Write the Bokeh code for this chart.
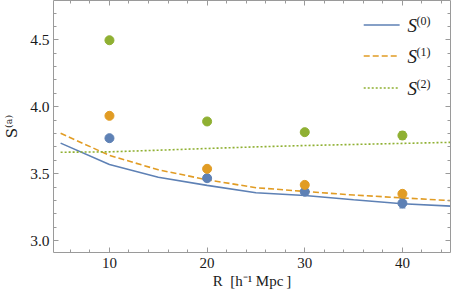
from bokeh.plotting import figure
from bokeh.models import (Range1d, LinearAxis, Label, Whisker, ColumnDataSource,
                          FixedTicker, PrintfTickFormatter, TeeHead)
from bokeh.embed import file_html
from bokeh.resources import INLINE

# ---- data ----
R_pts = [10, 20, 30, 40]
S0_pts = [3.765, 3.466, 3.365, 3.279]
S0_err = [0.008, 0.01, 0.02, 0.035]
S1_pts = [3.932, 3.536, 3.416, 3.349]
S1_err = [0.008, 0.01, 0.015, 0.02]
S2_pts = [4.497, 3.89, 3.81, 3.785]
S2_err = [0.008, 0.012, 0.018, 0.03]

R_line = [5, 10, 15, 20, 25, 30, 35, 40, 45, 50]
S0_line = [3.728, 3.568, 3.473, 3.412, 3.357, 3.337, 3.305, 3.275, 3.257, 3.24]
S1_line = [3.802, 3.636, 3.529, 3.454, 3.395, 3.367, 3.340, 3.319, 3.298, 3.28]
S2_line = [3.660, 3.663, 3.675, 3.688, 3.700, 3.710, 3.718, 3.726, 3.734, 3.741]

x_ticks = [10, 20, 30, 40]
y_ticks = [3.0, 3.5, 4.0, 4.5]
legend_labels = ["(0)", "(1)", "(2)"]
x_label = "R\u2002[h\u207b\u00b9 Mpc\u2009]"
y_label = "S\u207d\u1d43\u207e"

BLUE = "#5E81B5"
ORANGE = "#E19C24"
GREEN = "#8FB032"
FONT = "Liberation Serif"
AXC = "#9a9a9a"
TXT = "#1a1a1a"

# frame geometry in picture pixels
FL, FR, FT, FB = 52, 450, 0, 252
PXX = 9.79     # pixels per x unit
PXY = 133.8    # pixels per y unit
X0 = 4.27
X1 = X0 + (FR - FL) / PXX
Y1 = 4.794
Y0 = Y1 - (FB - FT) / PXY


def px2x(px):
    return X0 + (px - FL) / PXX


def px2y(py):
    return Y1 - (py - FT) / PXY


p = figure(width=452, height=294, x_range=Range1d(X0, X1), y_range=Range1d(Y0, Y1),
           output_backend="svg", toolbar_location=None,
           min_border_left=52, min_border_right=2, min_border_top=0, min_border_bottom=42)
p.outline_line_color = None
p.xgrid.visible = False
p.ygrid.visible = False
p.background_fill_color = "white"
p.border_fill_color = "white"

xt = FixedTicker(ticks=x_ticks, minor_ticks=[v for v in range(4, 47, 2)])
yt = FixedTicker(ticks=y_ticks, minor_ticks=[round(2.9 + 0.1 * i, 2) for i in range(20)])


def style(ax, labels=True):
    ax.axis_line_color = AXC
    ax.axis_line_width = 1
    ax.major_tick_line_color = AXC
    ax.minor_tick_line_color = AXC
    ax.major_tick_in = 5
    ax.major_tick_out = 0
    ax.minor_tick_in = 3
    ax.minor_tick_out = 0
    if labels:
        ax.major_label_text_font = FONT
        ax.major_label_text_font_size = "15.5px"
        ax.major_label_text_color = TXT
    else:
        ax.major_label_text_font_size = "0px"
        ax.major_label_standoff = 0
        ax.major_label_text_alpha = 0


p.xaxis.ticker = xt
p.yaxis.ticker = yt
p.xaxis.formatter = PrintfTickFormatter(format="%d")
p.yaxis.formatter = PrintfTickFormatter(format="%.1f")
style(p.xaxis[0])
style(p.yaxis[0])
p.xaxis.major_label_text_font_size = "15px"
p.xaxis.major_label_standoff = 5
p.yaxis.major_label_standoff = 4

p.xaxis.axis_label = x_label
p.xaxis.axis_label_text_font = FONT
p.xaxis.axis_label_text_font_style = "normal"
p.xaxis.axis_label_text_font_size = "15px"
p.xaxis.axis_label_text_color = TXT
p.xaxis.axis_label_standoff = 2

p.yaxis.axis_label = y_label
p.yaxis.axis_label_text_font = "DejaVu Serif"
p.yaxis.axis_label_text_font_style = "normal"
p.yaxis.axis_label_text_font_size = "15px"
p.yaxis.axis_label_text_color = TXT
p.yaxis.axis_label_standoff = 6

top = LinearAxis(ticker=xt)
right = LinearAxis(ticker=yt)
style(top, False)
style(right, False)
p.add_layout(top, "above")
p.add_layout(right, "right")

# ---- lines ----
p.line(R_line, S0_line, line_color=BLUE, line_width=1.6)
p.line(R_line, S1_line, line_color=ORANGE, line_width=1.6, line_dash="6 3")
p.line(R_line, S2_line, line_color=GREEN, line_width=1.6, line_dash="2 2")

# ---- points with error bars ----
for vals, errs, col in [(S0_pts, S0_err, BLUE), (S1_pts, S1_err, ORANGE), (S2_pts, S2_err, GREEN)]:
    src = ColumnDataSource(dict(x=R_pts, y=vals,
                                lo=[v - e for v, e in zip(vals, errs)],
                                hi=[v + e for v, e in zip(vals, errs)]))
    w = Whisker(base="x", upper="hi", lower="lo", source=src, line_color=col, line_width=1.2,
                upper_head=TeeHead(size=6, line_color=col, line_width=1.2),
                lower_head=TeeHead(size=6, line_color=col, line_width=1.2))
    p.add_layout(w)
    p.scatter("x", "y", source=src, size=9, fill_color=col, line_color=col)

# ---- legend (manual) ----
leg_y = [24.5, 55.5, 87.5]
leg_styles = [(BLUE, "solid"), (ORANGE, "6 3"), (GREEN, "2 2")]
for lbl, yy, (col, dash) in zip(legend_labels, leg_y, leg_styles):
    p.segment(x0=[px2x(363)], y0=[px2y(yy)], x1=[px2x(399)], y1=[px2y(yy)],
              line_color=col, line_width=1.6, line_dash=dash)
    p.add_layout(Label(x=px2x(407), y=px2y(yy), text="S", text_font=FONT,
                       text_font_style="italic", text_font_size="19px",
                       text_align="left", text_baseline="middle", text_color=TXT))
    p.add_layout(Label(x=px2x(416), y=px2y(yy - 4), text=lbl, text_font=FONT,
                       text_font_size="12px", text_align="left", text_baseline="middle",
                       text_color=TXT))

open("out.html", "w").write(file_html(p, INLINE))
